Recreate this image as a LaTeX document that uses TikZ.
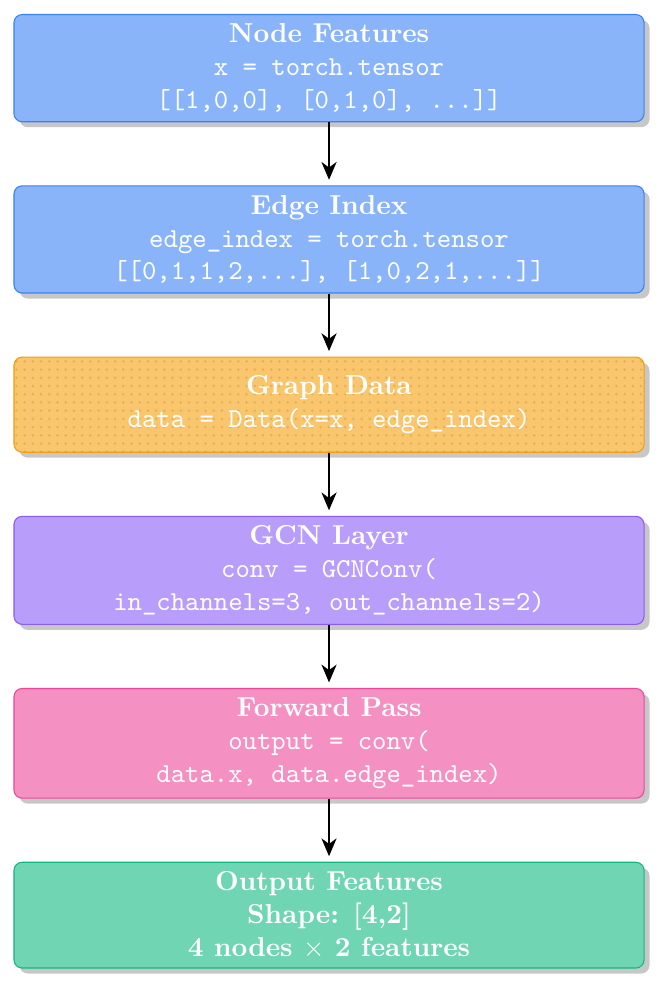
\documentclass[tikz,border=0pt]{standalone}
\usepackage{amsmath}
\usepackage{tikz}
\usetikzlibrary{arrows.meta,positioning,shadows,patterns}

\definecolor{featblue}{HTML}{3B82F6}
\definecolor{dataorange}{HTML}{F59E0B}
\definecolor{gcnpurple}{HTML}{8B5CF6}
\definecolor{passpink}{HTML}{EC4899}
\definecolor{outgreen}{HTML}{10B981}

\tikzset{
    box/.style={draw=#1, fill=#1!60, rounded corners=3pt, text=white, align=center,
        minimum width=230pt, minimum height=34.7pt, inner sep=3.4pt,
        drop shadow={shadow xshift=2pt, shadow yshift=-2pt, fill=black!22, opacity=1}},
    flow/.style={-{Stealth[length=6.5pt,width=5.5pt,inset=2pt]}, thick, shorten >=2pt}
}

\begin{document}
\begin{tikzpicture}[node distance=23pt]

\useasboundingbox (-120.1pt,5.1pt) rectangle (120.4pt,-354.8pt);

\node [box=featblue, anchor=north] (feat) at (0,0)
    {\textbf{Node Features}\\ \texttt{x = torch.tensor}\\ \texttt{[[1,0,0], [0,1,0], ...]]}};
\node [box=featblue, below=of feat] (edges)
    {\textbf{Edge Index}\\ \texttt{edge\_index = torch.tensor}\\ \texttt{[[0,1,1,2,...], [1,0,2,1,...]]}};
\node [box=dataorange, below=of edges,
       postaction={pattern=dots, pattern color=dataorange!70!black, fill opacity=0.25}] (graph)
    {\textbf{Graph Data}\\ \texttt{data = Data(x=x, edge\_index)}};
\node [box=gcnpurple, below=of graph] (gcn)
    {\textbf{GCN Layer}\\ \texttt{conv = GCNConv(}\\ \texttt{in\_channels=3, out\_channels=2)}};
\node [box=passpink, below=of gcn] (pass)
    {\textbf{Forward Pass}\\ \texttt{output = conv(}\\ \texttt{data.x, data.edge\_index)}};
\node [box=outgreen, below=of pass] (out)
    {\textbf{Output Features}\\ \textbf{Shape: [4,2]}\\ \textbf{4 nodes $\times$ 2 features}};

\foreach \a/\b in {feat/edges, edges/graph, graph/gcn, gcn/pass, pass/out}
    \draw [flow] (\a) -- (\b);

\end{tikzpicture}
\end{document}
